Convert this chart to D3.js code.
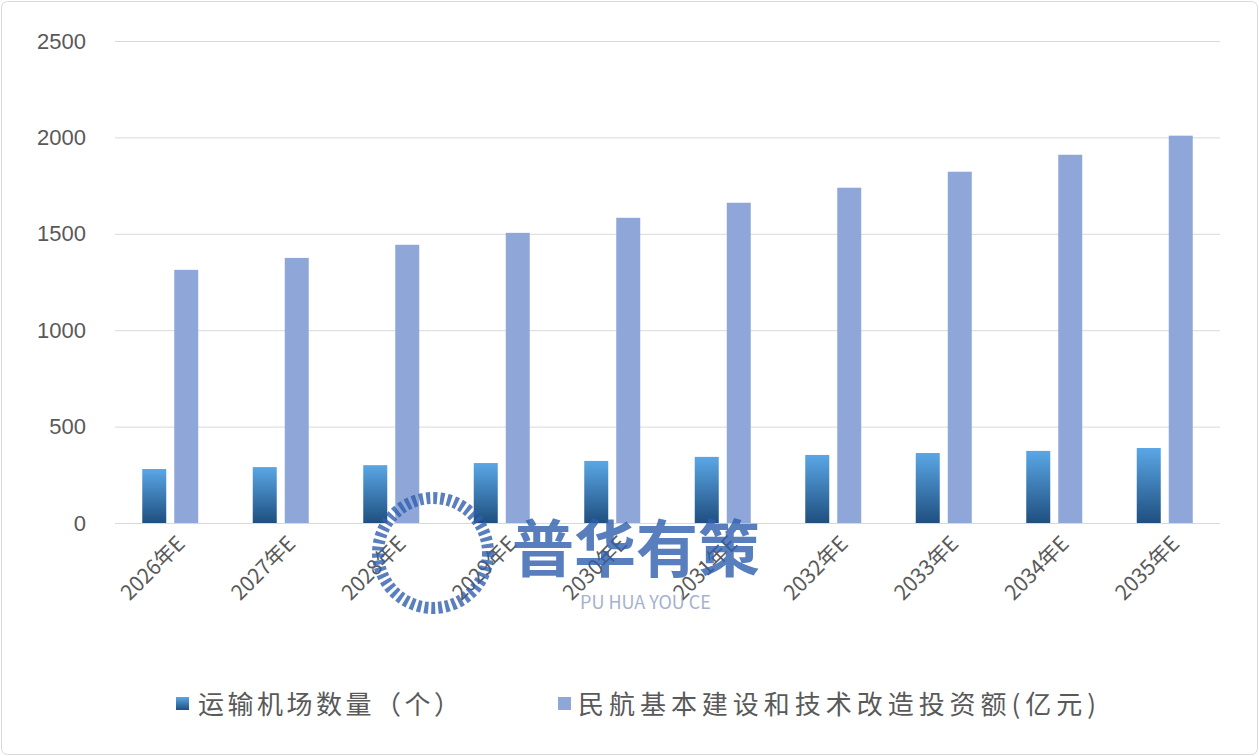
<!DOCTYPE html>
<html><head><meta charset="utf-8">
<script src="https://cdn.jsdelivr.net/npm/d3@7"></script>
<style>body{margin:0;background:#fff;font-family:"Noto Sans CJK SC","Noto Sans",sans-serif}</style>
</head><body>
<svg id="c" width="1259" height="756"></svg>
<script>
const categories=["2026年E","2027年E","2028年E","2029年E","2030年E","2031年E","2032年E","2033年E","2034年E","2035年E"];
const airports=[280,290,300,311,322,343,353,363,374,389];
const invest=[1313,1375,1443,1505,1583,1661,1739,1822,1910,2009];
const yTicks=[0,500,1000,1500,2000,2500];
const seriesNames=["运输机场数量（个）","民航基本建设和技术改造投资额(亿元)"];

const svg=d3.select("#c");
svg.append("rect").attr("x",1.5).attr("y",1.5).attr("width",1256).attr("height",753).attr("rx",6).attr("fill","#fff").attr("stroke","#d9d9d9");
const defs=svg.append("defs");
const g=defs.append("linearGradient").attr("id","gr").attr("x1",0).attr("x2",0).attr("y1",0).attr("y2",1);
g.append("stop").attr("offset","0%").attr("stop-color","#5aa7e6");
g.append("stop").attr("offset","100%").attr("stop-color","#1f4f7f");

const x=d3.scaleBand().domain(categories).range([115,1220]);
const y=d3.scaleLinear().domain([0,2500]).range([523,41]);
const yAx=svg.append("g").attr("transform","translate(115,0)").call(d3.axisLeft(y).tickValues(yTicks).tickFormat(d3.format("d")).tickSize(-1105));
yAx.select(".domain").remove();
yAx.selectAll("line").attr("stroke","#d9d9d9");
yAx.selectAll("text").attr("fill","#595959").style("font-size","22px").style("font-family","Liberation Sans,Arial").attr("text-anchor","end").attr("x",-29);
svg.append("line").attr("x1",115).attr("x2",1220).attr("y1",523.5).attr("y2",523.5).attr("stroke","#d9d9d9");

const bw=24;
svg.selectAll(".b1").data(categories).join("rect").attr("x",d=>x(d)+x.bandwidth()/2-bw-4).attr("width",bw)
 .attr("y",(d,i)=>y(airports[i])).attr("height",(d,i)=>y(0)-y(airports[i])).attr("fill","url(#gr)");
svg.selectAll(".b2").data(categories).join("rect").attr("x",d=>x(d)+x.bandwidth()/2+4).attr("width",bw)
 .attr("y",(d,i)=>y(invest[i])).attr("height",(d,i)=>y(0)-y(invest[i])).attr("fill","#8fa6d9");

svg.selectAll(".xl").data(categories).join("text")
 .attr("transform",d=>`translate(${x(d)+x.bandwidth()/2+16},545) rotate(-45)`)
 .attr("text-anchor","end").attr("fill","#595959").style("font-size","21px").text(d=>d);

// watermark
const wm=svg.append("g").attr("opacity",0.8);
wm.append("circle").attr("cx",433).attr("cy",553).attr("r",55).attr("fill","none").attr("stroke","#2f5fae").attr("stroke-width",12).attr("stroke-dasharray","4 3");
wm.append("text").attr("x",512).attr("y",572).attr("fill","#2f5fae").style("font-size","62px").style("font-weight","bold").text("普华有策");
wm.append("text").attr("x",580).attr("y",609).attr("fill","#8fa0bf").style("font-size","18px").text("PU HUA YOU CE");

const lg=svg.append("g");
lg.append("rect").attr("x",176).attr("y",697).attr("width",13).attr("height",13).attr("fill","url(#gr)");
lg.append("text").attr("x",198).attr("y",714).attr("fill","#595959").style("font-size","26px").attr("textLength",262).text(seriesNames[0]);
lg.append("rect").attr("x",558).attr("y",697).attr("width",13).attr("height",13).attr("fill","#8fa6d9");
lg.append("text").attr("x",578).attr("y",714).attr("fill","#595959").style("font-size","26px").attr("textLength",518).text(seriesNames[1]);
</script>
</body></html>
